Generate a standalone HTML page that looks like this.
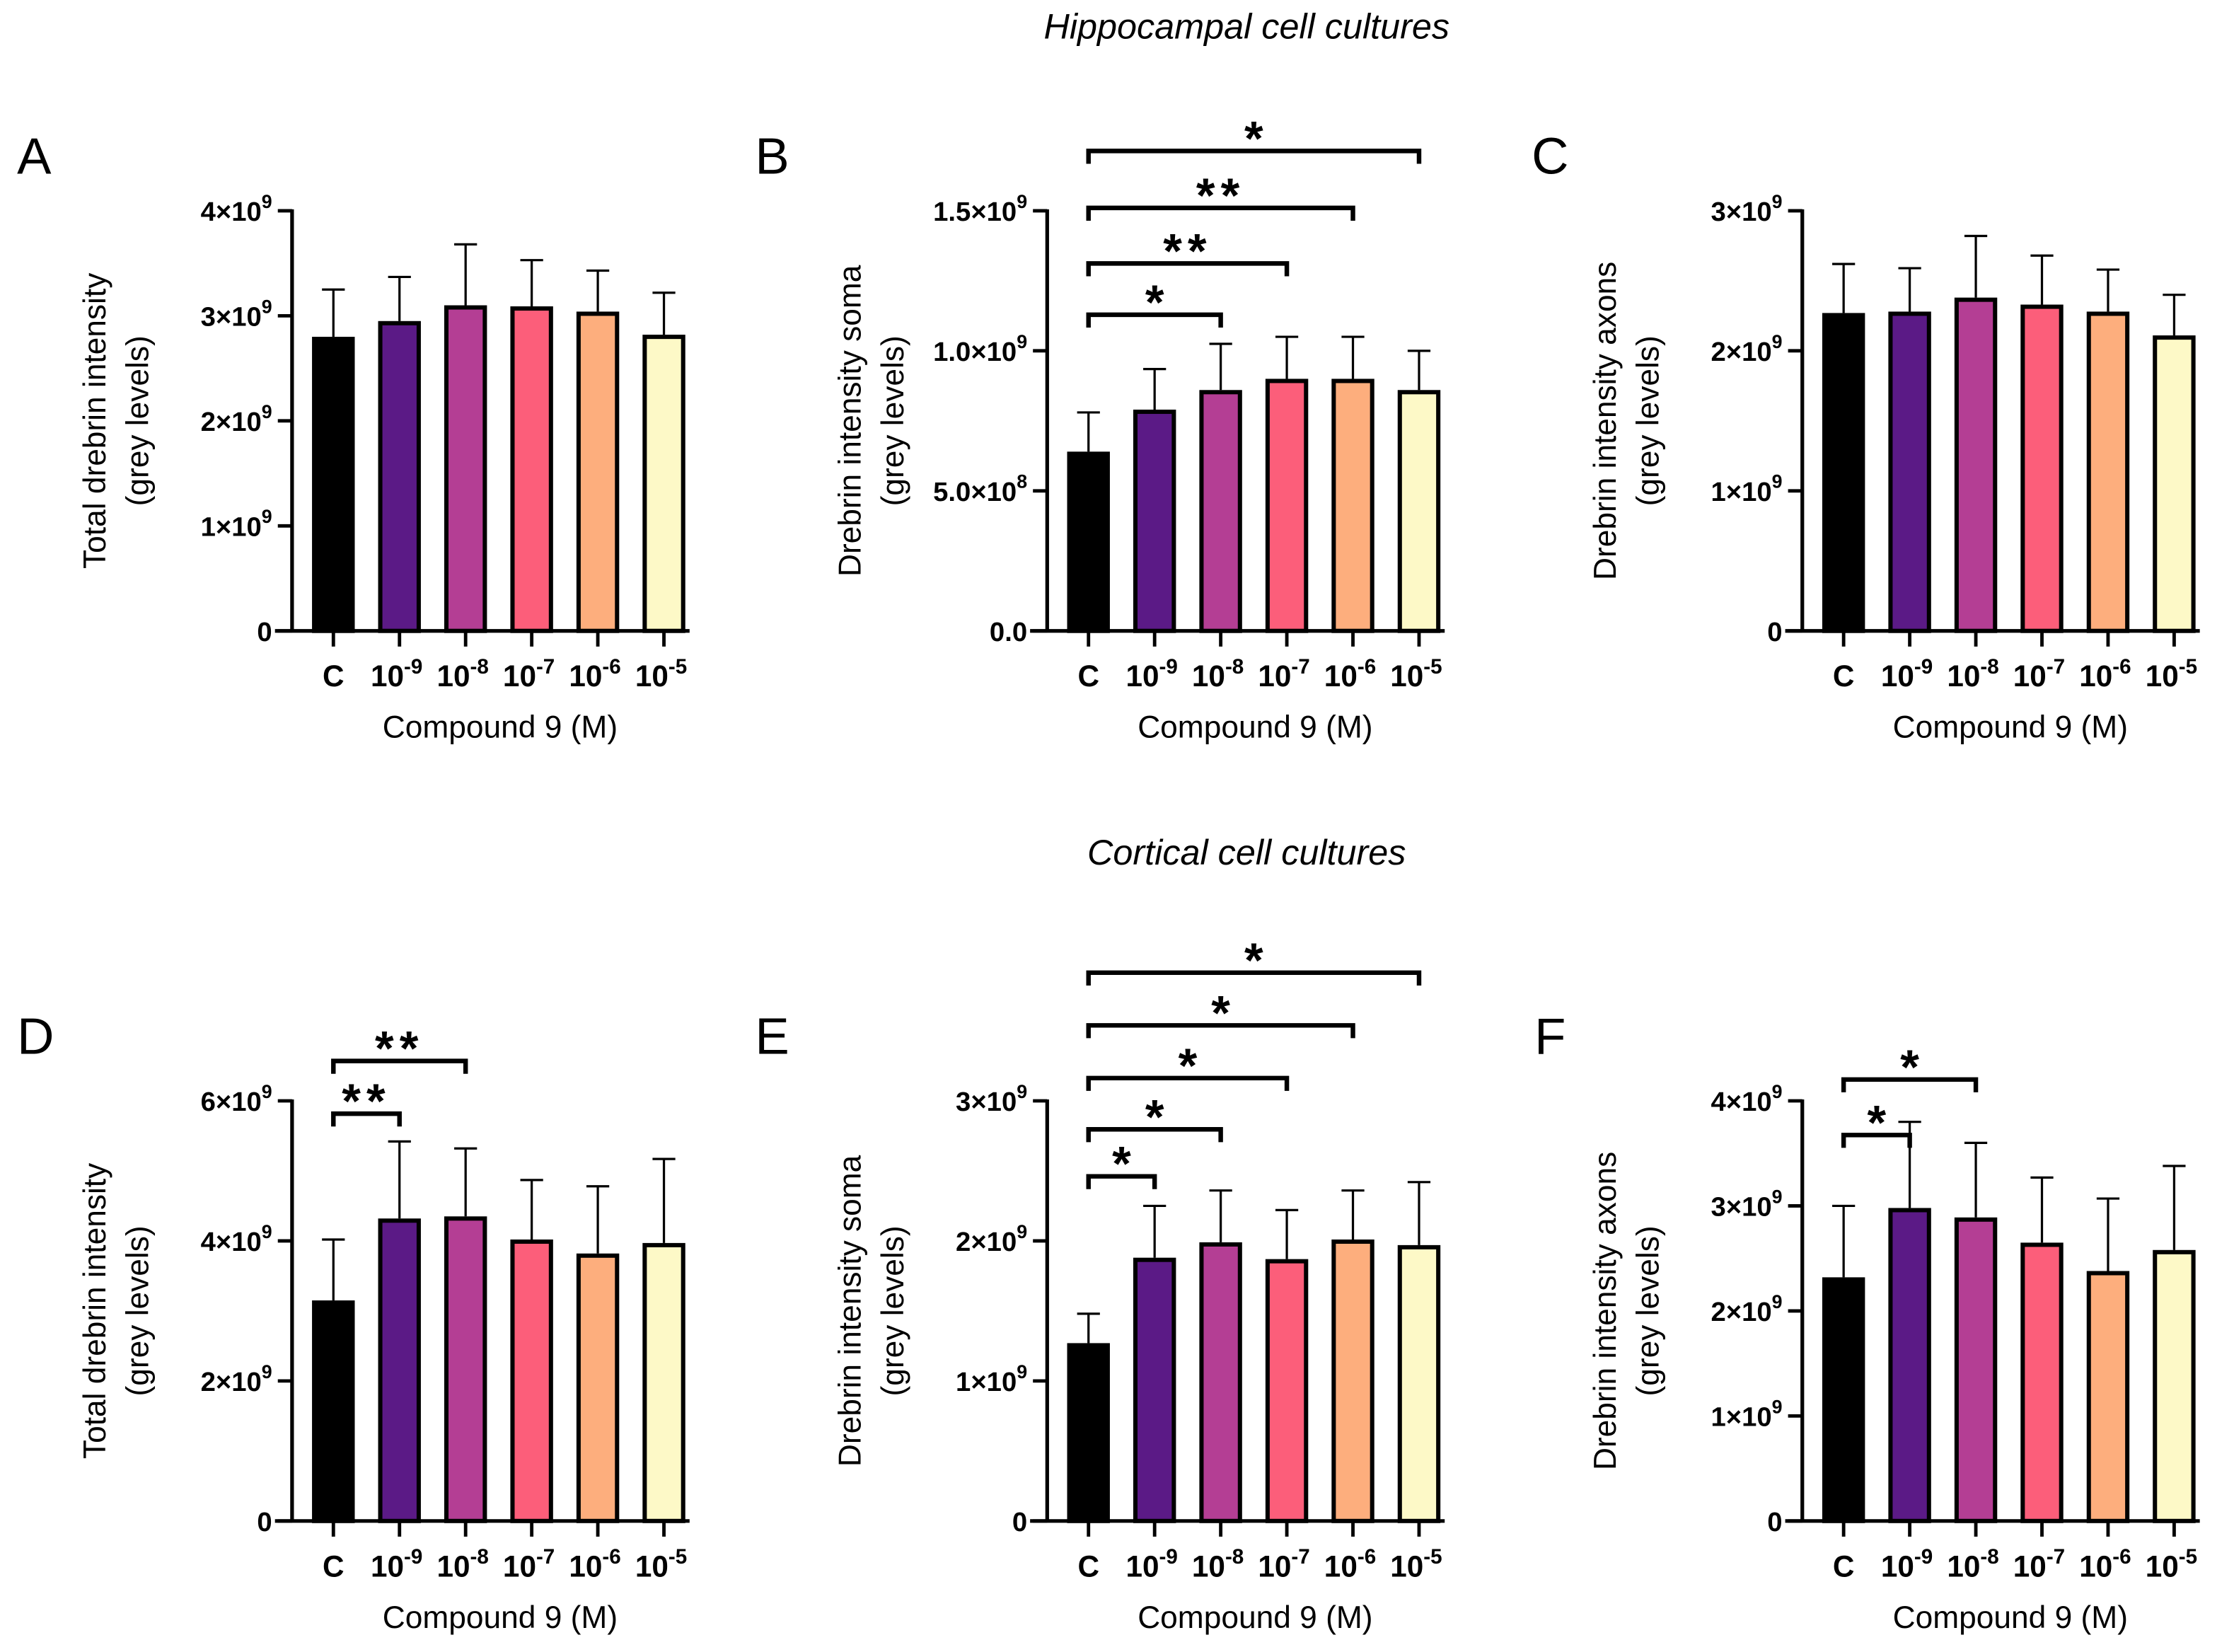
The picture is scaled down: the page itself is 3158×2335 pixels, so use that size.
<!DOCTYPE html>
<html><head><meta charset="utf-8">
<style>
html,body{margin:0;padding:0;background:#fff;}
svg{display:block;}
text{font-family:"Liberation Sans",Arial,sans-serif;}
</style></head>
<body>
<svg id="fig" width="3158" height="2335" viewBox="0 0 1568 1160" preserveAspectRatio="none" xmlns="http://www.w3.org/2000/svg">
<text x="875" y="27" text-anchor="middle" font-size="25" font-style="italic">Hippocampal cell cultures</text>
<text x="875" y="607" text-anchor="middle" font-size="25" font-style="italic">Cortical cell cultures</text>
</svg>
<script>
const categories = ["C","10-9","10-8","10-7","10-6","10-5"];
const colors = ["#000000","#5b1a86","#b43e94","#fc5e7a","#fdae7d","#fdf9c7"];

const valuesA = [2.80,2.95,3.10,3.09,3.04,2.82];
const errTopA = [3.25,3.37,3.68,3.53,3.43,3.22];
const ticksA = [0,1,2,3,4];
const valuesB = [0.64,0.79,0.86,0.90,0.90,0.86];
const errTopB = [0.78,0.935,1.025,1.05,1.05,1.00];
const ticksB = [0,0.5,1.0,1.5];
const valuesC = [2.27,2.28,2.38,2.33,2.28,2.11];
const errTopC = [2.62,2.59,2.82,2.68,2.58,2.40];
const ticksC = [0,1,2,3];
const valuesD = [3.15,4.32,4.35,4.02,3.82,3.97];
const errTopD = [4.02,5.42,5.32,4.87,4.78,5.17];
const ticksD = [0,2,4,6];
const valuesE = [1.27,1.88,1.99,1.87,2.01,1.97];
const errTopE = [1.48,2.25,2.36,2.22,2.36,2.42];
const ticksE = [0,1,2,3];
const valuesF = [2.32,2.98,2.89,2.65,2.38,2.58];
const errTopF = [3.00,3.80,3.60,3.27,3.07,3.38];
const ticksF = [0,1,2,3,4];

const tickLabelsA = ["0","1×10^9","2×10^9","3×10^9","4×10^9"];
const tickLabelsB = ["0.0","5.0×10^8","1.0×10^9","1.5×10^9"];
const tickLabelsC = ["0","1×10^9","2×10^9","3×10^9"];
const tickLabelsD = ["0","2×10^9","4×10^9","6×10^9"];
const tickLabelsE = ["0","1×10^9","2×10^9","3×10^9"];
const tickLabelsF = ["0","1×10^9","2×10^9","3×10^9","4×10^9"];

const sigB = [[2,"*"],[3,"**"],[4,"**"],[5,"*"]];
const sigD = [[1,"**"],[2,"**"]];
const sigE = [[1,"*"],[2,"*"],[3,"*"],[4,"*"],[5,"*"]];
const sigF = [[1,"*"],[2,"*"]];
const sigNone = [];

const NS="http://www.w3.org/2000/svg";
const svg=document.getElementById('fig');
function el(tag,attrs,parent){const e=document.createElementNS(NS,tag);for(const k in attrs)e.setAttribute(k,attrs[k]);(parent||svg).appendChild(e);return e;}
function supText(g,x,y,label,anchor,size){
  const t=el('text',{x:x,y:y,'text-anchor':anchor,'font-size':size,'font-weight':'bold'},g);
  const parts=label.split('^');
  t.appendChild(document.createTextNode(parts[0]));
  if(parts[1]!==undefined){const s=el('tspan',{dy:-9,'font-size':size*0.7},t);s.textContent=parts[1];}
  return t;
}

function panel(o){
  const g=el('g',{});
  
  
  const ax=o.ax, y0=o.y0, yT=o.yTop, vmax=o.ticks[o.ticks.length-1];
  const ys=v=>y0-(v/vmax)*(y0-yT);
  const x0=ax+29, step=46.4, bw=30;
  const xs=i=>x0+i*step;
  const L=el('text',{x:o.lx,y:o.ly,'font-size':36},g);L.textContent=o.letter;
  
  
  o.values.forEach((v,i)=>{
    const cx=xs(i);
    const e=el('line',{x1:cx,x2:cx,y1:ys(o.err[i]),y2:ys(v),stroke:'#000','stroke-width':1.6},g);
    
    
    el('line',{x1:cx-8,x2:cx+8,y1:ys(o.err[i]),y2:ys(o.err[i]),stroke:'#000','stroke-width':1.6},g);
    const r=el('rect',{x:cx-bw/2+1.5,y:ys(v)+1.5,width:bw-3,height:y0-ys(v)-1.5,fill:colors[i],stroke:'#000','stroke-width':3},g);
    
    
  });
  const yaxis=el('line',{x1:ax,x2:ax,y1:yT-1,y2:y0+1,stroke:'#000','stroke-width':2.6},g);
  
  
  const xaxis=el('line',{x1:ax-12,x2:ax+279,y1:y0,y2:y0,stroke:'#000','stroke-width':2.6},g);
  
  
  o.ticks.forEach((t,i)=>{
    const y=ys(t);
    el('line',{x1:ax-10,x2:ax,y1:y,y2:y,stroke:'#000','stroke-width':2.4},g);
    const tl=supText(g,ax-14,y+7,o.tickLabels[i],'end',19);
    
    
  });
  categories.forEach((c,i)=>{
    const cx=xs(i);
    el('line',{x1:cx,x2:cx,y1:y0,y2:y0+11,stroke:'#000','stroke-width':2.4},g);
    const t=supText(g,cx+(c==="C"?0:-2),y0+39,c==="C"?"C":"10^-"+c.slice(3),'middle',21);
    
    
  });
  const xt=el('text',{x:ax+146,y:y0+75,'text-anchor':'middle','font-size':22},g);
  xt.textContent='Compound 9 (M)';
  
  
  const cy=(yT+y0)/2;
  const yt=el('text',{transform:'translate('+(ax-131)+','+cy+') rotate(-90)','text-anchor':'middle','font-size':22},g);
  const t1=el('tspan',{x:0,dy:0},yt);t1.textContent=o.ylab;
  const t2=el('tspan',{x:0,dy:30},yt);t2.textContent='(grey levels)';
  
  
  o.sig.forEach((s,k)=>{
    const by=o.sigY[k], xa=xs(0), xb=xs(s[0]);
    const b=el('path',{d:'M'+xa+','+(by+9)+' V'+by+' H'+xb+' V'+(by+9),fill:'none',stroke:'#000','stroke-width':3.2},g);
    
    
    const st=el('text',{x:(xa+xb)/2,y:by+3,'text-anchor':'middle','font-size':34,'font-weight':'bold','letter-spacing':s[1].length>1?4:0},g);
    st.textContent=s[1];
    
    
  });
}

panel({letter:'A',lx:12,ly:122,ax:205,y0:443,yTop:148,values:valuesA,err:errTopA,ticks:ticksA,tickLabels:tickLabelsA,ylab:'Total drebrin intensity',sig:sigNone,sigY:[]});
panel({letter:'B',lx:530,ly:122,ax:735,y0:443,yTop:148,values:valuesB,err:errTopB,ticks:ticksB,tickLabels:tickLabelsB,ylab:'Drebrin intensity soma',sig:sigB,sigY:[221,185,146,106]});
panel({letter:'C',lx:1075,ly:122,ax:1265,y0:443,yTop:148,values:valuesC,err:errTopC,ticks:ticksC,tickLabels:tickLabelsC,ylab:'Drebrin intensity axons',sig:sigNone,sigY:[]});
panel({letter:'D',lx:12,ly:740,ax:205,y0:1068,yTop:773,values:valuesD,err:errTopD,ticks:ticksD,tickLabels:tickLabelsD,ylab:'Total drebrin intensity',sig:sigD,sigY:[782,745]});
panel({letter:'E',lx:530,ly:740,ax:735,y0:1068,yTop:773,values:valuesE,err:errTopE,ticks:ticksE,tickLabels:tickLabelsE,ylab:'Drebrin intensity soma',sig:sigE,sigY:[826,793,757,720,683]});
panel({letter:'F',lx:1077,ly:740,ax:1265,y0:1068,yTop:773,values:valuesF,err:errTopF,ticks:ticksF,tickLabels:tickLabelsF,ylab:'Drebrin intensity axons',sig:sigF,sigY:[797,758]});
</script>
</body></html>
